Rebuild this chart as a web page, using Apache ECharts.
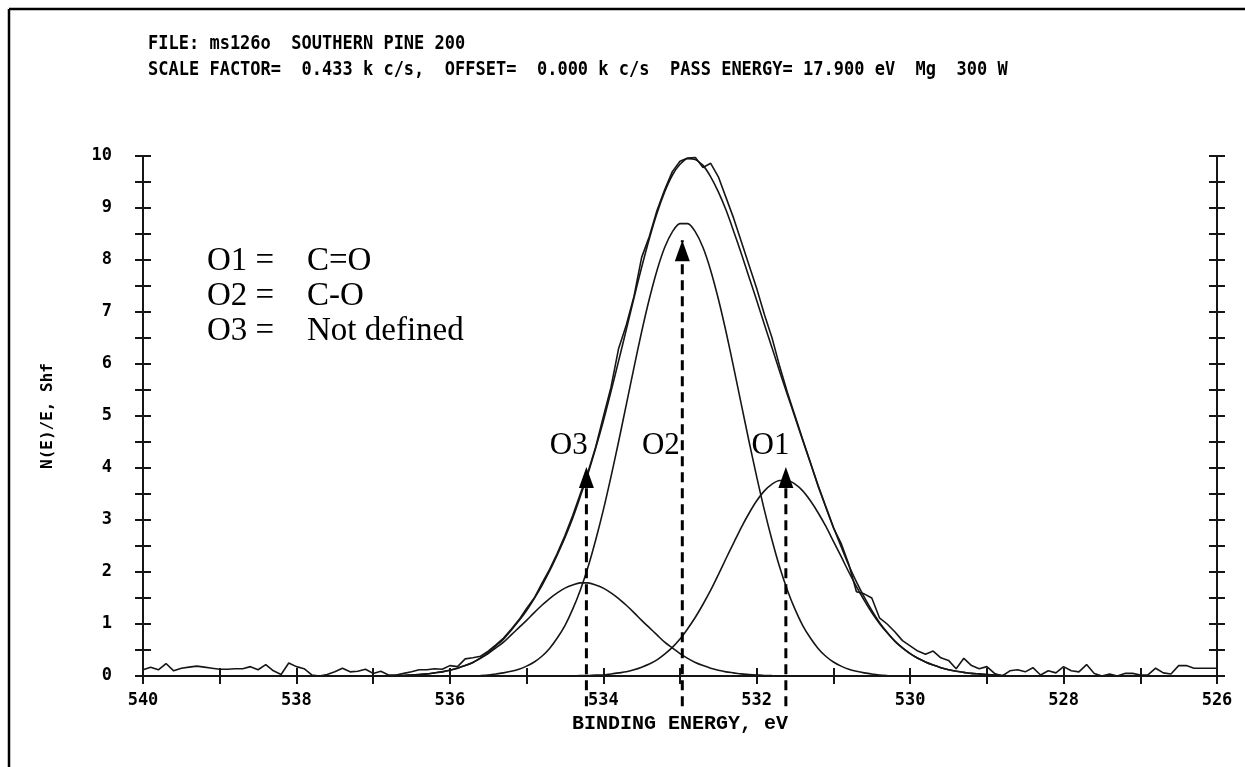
<!DOCTYPE html>
<html><head><meta charset="utf-8">
<script src="https://cdn.jsdelivr.net/npm/echarts@6/dist/echarts.min.js"></script>
<style>html,body{margin:0;padding:0;background:#fff}#c{width:1245px;height:767px}</style>
</head><body><div id="c"></div>
<script>
// ---------- text ----------
const headerLines = [
  'FILE: ms126o  SOUTHERN PINE 200',
  'SCALE FACTOR=  0.433 k c/s,  OFFSET=  0.000 k c/s  PASS ENERGY= 17.900 eV  Mg  300 W'
];
const legendLines = [['O1 =', 'C=O'], ['O2 =', 'C-O'], ['O3 =', 'Not defined']];
const xTitle = 'BINDING ENERGY, eV';
const yTitle = 'N(E)/E, Shf';

// ---------- raw spectrum (binding energy, eV / intensity) ----------
const rawE = [540.0,539.9,539.8,539.7,539.6,539.5,539.4,539.3,539.2,539.1,
539.0,538.9,538.8,538.7,538.6,538.5,538.4,538.3,538.2,538.1,
538.0,537.9,537.8,537.7,537.6,537.5,537.4,537.3,537.2,537.1,
537.0,536.9,536.8,536.7,536.6,536.5,536.4,536.3,536.2,536.1,
536.0,535.9,535.8,535.7,535.6,535.5,535.4,535.3,535.2,535.1,
535.0,534.9,534.8,534.7,534.6,534.5,534.4,534.3,534.2,534.1,
534.0,533.9,533.8,533.7,533.6,533.5,533.4,533.3,533.2,533.1,
533.0,532.9,532.8,532.7,532.6,532.5,532.4,532.3,532.2,532.1,
532.0,531.9,531.8,531.7,531.6,531.5,531.4,531.3,531.2,531.1,
531.0,530.9,530.8,530.7,530.6,530.5,530.4,530.3,530.2,530.1,
530.0,529.9,529.8,529.7,529.6,529.5,529.4,529.3,529.2,529.1,
529.0,528.9,528.8,528.7,528.6,528.5,528.4,528.3,528.2,528.1,
528.0,527.9,527.8,527.7,527.6,527.5,527.4,527.3,527.2,527.1,
527.0,526.9,526.8,526.7,526.6,526.5,526.4,526.3,526.2,526.1,
526.0];
const rawV = [0.12,0.17,0.12,0.24,0.10,0.15,0.17,0.19,0.17,0.15,
0.13,0.13,0.14,0.14,0.18,0.12,0.22,0.10,0.03,0.25,
0.18,0.14,0.02,0.00,0.03,0.08,0.15,0.08,0.09,0.13,
0.05,0.09,0.02,0.02,0.05,0.08,0.12,0.12,0.14,0.13,
0.20,0.18,0.33,0.35,0.38,0.48,0.60,0.73,0.90,1.08,
1.30,1.50,1.78,2.05,2.36,2.70,3.08,3.50,3.92,4.40,
4.98,5.55,6.30,6.75,7.30,8.05,8.45,8.95,9.35,9.70,
9.90,9.96,9.97,9.78,9.86,9.60,9.20,8.80,8.35,7.90,
7.45,6.95,6.50,5.95,5.45,5.00,4.55,4.10,3.65,3.25,
2.85,2.55,2.15,1.62,1.58,1.50,1.12,1.00,0.85,0.68,
0.58,0.48,0.42,0.48,0.35,0.30,0.14,0.34,0.20,0.14,
0.18,0.05,0.00,0.10,0.12,0.08,0.16,0.02,0.10,0.06,
0.18,0.10,0.08,0.22,0.05,0.00,0.04,0.00,0.05,0.05,
0.02,0.02,0.15,0.06,0.04,0.20,0.20,0.15,0.15,0.15,
0.15];

// ---------- fitted curves ----------
const fitE = [537.0,536.9,536.8,536.7,536.6,536.5,536.4,536.3,536.2,536.1,
536.0,535.9,535.8,535.7,535.6,535.5,535.4,535.3,535.2,535.1,
535.0,534.9,534.8,534.7,534.6,534.5,534.4,534.3,534.2,534.1,
534.0,533.9,533.8,533.7,533.6,533.5,533.4,533.3,533.2,533.1,
533.0,532.9,532.8,532.7,532.6,532.5,532.4,532.3,532.2,532.1,
532.0,531.9,531.8,531.7,531.6,531.5,531.4,531.3,531.2,531.1,
531.0,530.9,530.8,530.7,530.6,530.5,530.4,530.3,530.2,530.1,
530.0,529.9,529.8,529.7,529.6,529.5,529.4,529.3,529.2,529.1,
529.0,528.9,528.8,528.7];
const envelope = [0.00,0.00,0.00,0.01,0.01,0.02,0.03,0.04,0.06,0.08,
0.11,0.15,0.20,0.26,0.35,0.45,0.58,0.71,0.88,1.06,
1.26,1.49,1.74,2.02,2.33,2.66,3.03,3.45,3.89,4.38,
4.90,5.47,6.06,6.66,7.27,7.86,8.41,8.90,9.31,9.63,
9.84,9.95,9.93,9.82,9.60,9.31,8.96,8.55,8.12,7.67,
7.22,6.76,6.31,5.85,5.41,4.97,4.53,4.10,3.67,3.26,
2.86,2.49,2.13,1.81,1.52,1.26,1.03,0.84,0.67,0.54,
0.43,0.34,0.27,0.21,0.16,0.12,0.09,0.07,0.05,0.04,
0.03,0.02,0.01,0.00];
const peakO3 = [null,null,0.00,0.01,0.01,0.02,0.03,0.04,0.06,0.08,
0.11,0.15,0.20,0.26,0.34,0.43,0.54,0.65,0.79,0.93,
1.07,1.22,1.36,1.49,1.60,1.69,1.75,1.79,1.79,1.75,
1.69,1.60,1.49,1.36,1.22,1.07,0.93,0.79,0.65,0.54,
0.43,0.34,0.26,0.20,0.15,0.11,0.08,0.06,0.04,0.03,
0.02,0.01,0.01,null,null,null,null,null,null,null,
null,null,null,null,null,null,null,null,null,null,
null,null,null,null,null,null,null,null,null,null,
null,null,null,null];
const peakO2 = [null,null,null,null,null,null,null,null,null,null,
null,null,null,null,0.01,0.02,0.04,0.06,0.09,0.13,
0.19,0.27,0.38,0.53,0.73,0.97,1.28,1.65,2.09,2.61,
3.19,3.83,4.51,5.22,5.93,6.62,7.25,7.80,8.24,8.54,
8.70,8.70,8.54,8.24,7.80,7.25,6.62,5.93,5.22,4.51,
3.83,3.19,2.61,2.09,1.65,1.28,0.97,0.73,0.53,0.38,
0.27,0.19,0.13,0.09,0.06,0.04,0.02,0.01,null,null,
null,null,null,null,null,null,null,null,null,null,
null,null,null,null];
const peakO1 = [null,null,null,null,null,null,null,null,null,null,
null,null,null,null,null,null,null,null,null,null,
null,null,null,null,null,0.00,0.00,0.01,0.01,0.02,
0.02,0.04,0.06,0.08,0.12,0.17,0.23,0.31,0.42,0.55,
0.71,0.91,1.13,1.38,1.65,1.95,2.26,2.56,2.86,3.13,
3.37,3.56,3.69,3.76,3.76,3.69,3.56,3.37,3.14,2.88,
2.59,2.30,2.00,1.72,1.46,1.22,1.01,0.83,0.67,0.54,
0.43,0.34,0.27,0.21,0.16,0.12,0.09,0.07,0.05,0.04,
0.03,0.02,0.01,0.00];

// ---------- peak markers ----------
const peakNames = ['O3', 'O2', 'O1'];
const arrowE = [534.22, 532.97, 531.62];
const arrowTop = [4.02, 8.38, 4.02];
const arrowBottom = -0.58;
const labelE = [534.45, 533.25, 531.82];
const labelY = [4.42, 4.42, 4.42];

// ---------- axes ----------
const xMin = 526, xMax = 540, xStep = 1, xLabelStep = 2;
const yMin = 0, yMax = 10, yStep = 0.5;

const INK = '#161616';
const MONO = '"DejaVu Sans Mono", "Liberation Mono", monospace';
const SERIF = '"Liberation Serif", "Times New Roman", serif';

const chart = echarts.init(document.getElementById('c'), null, {renderer: 'canvas'});
const zip = (a, b) => a.map((v, i) => [v, b[i]]);

function xAx(pos, inside, labels) {
  return {
    type: 'value', min: xMin, max: xMax, interval: xStep, inverse: true, position: pos,
    axisLine: {show: true, lineStyle: {color: INK, width: 2}},
    axisTick: {show: true, inside: inside, length: 8, lineStyle: {color: INK, width: 2}},
    splitLine: {show: false},
    axisLabel: labels ? {
      show: true, margin: 16, color: '#000',
      fontFamily: MONO, fontWeight: 'bold', fontSize: 17,
      formatter: v => (Math.round(v) % xLabelStep === 0 ? String(v) : '')
    } : {show: false},
    name: labels ? xTitle : '', nameLocation: 'middle', nameGap: 35,
    nameTextStyle: {fontFamily: '"Liberation Mono", monospace', fontWeight: 'bold', fontSize: 20, color: '#000'}
  };
}
function yAx(pos, inside, labels) {
  return {
    type: 'value', min: yMin, max: yMax, interval: yStep, position: pos,
    axisLine: {show: true, lineStyle: {color: INK, width: 2}},
    axisTick: {show: true, inside: inside, length: 8, lineStyle: {color: INK, width: 2}},
    splitLine: {show: false},
    axisLabel: labels ? {
      show: true, margin: 31, color: '#000',
      fontFamily: MONO, fontWeight: 'bold', fontSize: 17,
      formatter: v => (Math.abs(v - Math.round(v)) < 1e-9 ? String(v) : '')
    } : {show: false},
    name: labels ? yTitle : '', nameLocation: 'middle', nameGap: 87, nameRotate: 90,
    nameTextStyle: {fontFamily: MONO, fontWeight: 'bold', fontSize: 16, color: '#000'}
  };
}

const curve = (name, data, smooth) => ({
  name, type: 'line', xAxisIndex: 0, yAxisIndex: 0, data, smooth: smooth ? 0.3 : false,
  symbol: 'none', connectNulls: false, animation: false,
  lineStyle: {color: INK, width: 1.6}, z: 3
});

const series = [
  curve('raw', zip(rawE, rawV), false),
  curve('envelope', zip(fitE, envelope), true),
  curve('O3 fit', zip(fitE, peakO3), true),
  curve('O2 fit', zip(fitE, peakO2), true),
  curve('O1 fit', zip(fitE, peakO1), true)
];
arrowE.forEach((e, i) => {
  series.push({
    name: peakNames[i] + ' arrow', type: 'line', xAxisIndex: 0, yAxisIndex: 0,
    data: [[e, arrowBottom], [e, arrowTop[i]]], symbol: 'none', clip: false, animation: false,
    lineStyle: {color: '#000', width: 3, type: [10, 6]}, z: 5
  });
});
series.push({
  name: 'arrow heads', type: 'scatter', xAxisIndex: 0, yAxisIndex: 0, clip: false, animation: false,
  data: arrowE.map((e, i) => [e, arrowTop[i]]),
  symbol: 'triangle', symbolSize: [15, 21], symbolOffset: [0, 10.5],
  itemStyle: {color: '#000', opacity: 1}, z: 6
});
series.push({
  name: 'peak labels', type: 'scatter', xAxisIndex: 0, yAxisIndex: 0, animation: false,
  data: labelE.map((e, i) => ({value: [e, labelY[i]], name: peakNames[i]})),
  symbolSize: 0, itemStyle: {opacity: 1},
  label: {show: true, position: 'inside', formatter: p => p.name, opacity: 1,
    fontFamily: SERIF, fontSize: 31, color: '#000'},
  z: 7
});

const graphics = [
  {type: 'line', shape: {x1: 9, y1: 9, x2: 9, y2: 767}, style: {stroke: '#000', lineWidth: 2.5}},
  {type: 'line', shape: {x1: 9, y1: 9, x2: 1245, y2: 9}, style: {stroke: '#000', lineWidth: 2.5}}
];
headerLines.forEach((t, i) => {
  graphics.push({type: 'text', x: 148, y: 44 + i * 26, scaleY: 1.12,
    style: {text: t, font: 'bold 17px ' + MONO, fill: '#000', textVerticalAlign: 'middle'}});
});
legendLines.forEach((l, i) => {
  graphics.push({type: 'text', x: 207, y: 261 + i * 35,
    style: {text: l[0], font: '33px ' + SERIF, fill: '#000', textVerticalAlign: 'middle'}});
  graphics.push({type: 'text', x: 307, y: 261 + i * 35,
    style: {text: l[1], font: '33px ' + SERIF, fill: '#000', textVerticalAlign: 'middle'}});
});

chart.setOption({
  backgroundColor: '#fff',
  animation: false,
  grid: {left: 143, right: 28, top: 156, bottom: 91, containLabel: false},
  xAxis: [xAx('bottom', false, true), xAx('bottom', true, false), xAx('top', false, false), xAx('top', true, false)],
  yAxis: [yAx('left', false, true), yAx('left', true, false), yAx('right', false, false), yAx('right', true, false)],
  series: series,
  graphic: graphics
});
</script>
</body></html>
